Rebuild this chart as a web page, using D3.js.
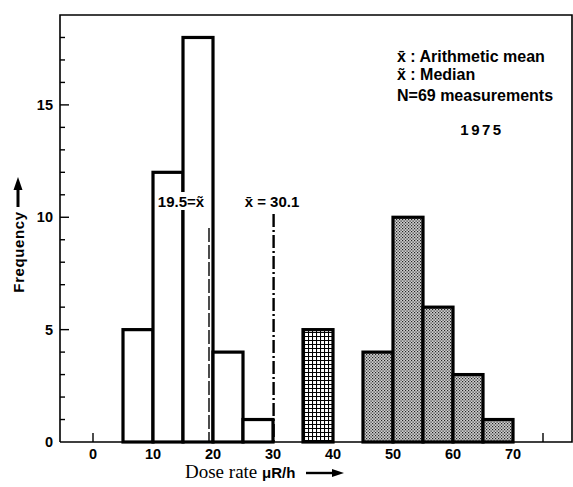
<!DOCTYPE html>
<html>
<head>
<meta charset="utf-8">
<script src="https://cdn.jsdelivr.net/npm/d3@7"></script>
<style>
  body { margin: 0; background: #fff; }
  svg { display: block; }
  .lab { font-family: "Liberation Sans", Arial, sans-serif; font-weight: bold; fill: #000; }
</style>
</head>
<body>
<div id="chart"></div>
<script>
// 1975 dose rate histogram, bins 5 uR/h wide
var binWidth = 5;
var openBins = [5, 10, 15, 20, 25];
var openCounts = [5, 12, 18, 4, 1];
var hatchBins = [35];
var hatchCounts = [5];
var dotBins = [45, 50, 55, 60, 65];
var dotCounts = [4, 10, 6, 3, 1];

var meanValue = 30.1;
var medianValue = 19.5;

var xTickLabels = [0, 10, 20, 30, 40, 50, 60, 70];
var yTickLabels = [0, 5, 10, 15];
var legendLines = ["x\u0304 : Arithmetic mean", "x\u0303 : Median", "N=69 measurements"];
var yearLabel = "1975";

var width = 573, height = 487;
var svg = d3.select("#chart").append("svg")
    .attr("width", width)
    .attr("height", height);

var x = d3.scaleLinear().domain([0, 75]).range([93, 543]);
var y = d3.scaleLinear().domain([0, 19]).range([442, 15]);

var defs = svg.append("defs");

// cross-hatch grid
var hatch = defs.append("pattern")
    .attr("id", "hatch")
    .attr("patternUnits", "userSpaceOnUse")
    .attr("width", 4).attr("height", 4);
hatch.append("rect").attr("width", 4).attr("height", 4).attr("fill", "#fff");
hatch.append("path").attr("d", "M0,0.5H4M0.5,0V4").attr("stroke", "#000").attr("stroke-width", 1.1);

// fine stipple
var dots = defs.append("pattern")
    .attr("id", "dots")
    .attr("patternUnits", "userSpaceOnUse")
    .attr("width", 3).attr("height", 3);
dots.append("rect").attr("width", 3).attr("height", 3).attr("fill", "#d0d0d0");
dots.append("rect").attr("x", 0).attr("y", 0).attr("width", 1.2).attr("height", 1.2).attr("fill", "#222");
dots.append("rect").attr("x", 1.5).attr("y", 1.5).attr("width", 1.2).attr("height", 1.2).attr("fill", "#222");

var x0 = x(-5.5), x1 = 572;

// frame
svg.append("path")
    .attr("d", "M" + x0 + "," + y(0) + "V" + y(19) + "H" + x1 + "V" + y(0) + "H" + x0)
    .attr("fill", "none")
    .attr("stroke", "#000")
    .attr("stroke-width", 1.6);

// y ticks (inward)
svg.selectAll(".ytick")
  .data(d3.range(1, 19))
  .enter().append("line")
    .attr("x1", x0).attr("x2", function(d){ return d % 5 === 0 ? x0 + 9 : x0 + 5; })
    .attr("y1", function(d){ return y(d); })
    .attr("y2", function(d){ return y(d); })
    .attr("stroke", "#000").attr("stroke-width", 1.4);

svg.selectAll(".ylab")
  .data(yTickLabels)
  .enter().append("text")
    .attr("class", "lab")
    .attr("x", x0 - 7)
    .attr("y", function(d){ return y(d) + 5; })
    .attr("text-anchor", "end")
    .attr("font-size", 14.5)
    .text(function(d){ return d; });

// x ticks (upward)
svg.selectAll(".xtick")
  .data(d3.range(0, 80, 5))
  .enter().append("line")
    .attr("x1", function(d){ return x(d); })
    .attr("x2", function(d){ return x(d); })
    .attr("y1", y(0)).attr("y2", y(0) - 9)
    .attr("stroke", "#000").attr("stroke-width", 1.4);

svg.selectAll(".xlab")
  .data(xTickLabels)
  .enter().append("text")
    .attr("class", "lab")
    .attr("x", function(d){ return x(d); })
    .attr("y", 459)
    .attr("text-anchor", "middle")
    .attr("font-size", 14.5)
    .text(function(d){ return d; });

function drawBars(bins, counts, fill) {
  svg.append("g").selectAll("rect")
    .data(bins.map(function(b, i){ return { start: b, count: counts[i] }; }))
    .enter().append("rect")
      .attr("x", function(d){ return x(d.start); })
      .attr("y", function(d){ return y(d.count); })
      .attr("width", function(d){ return x(d.start + binWidth) - x(d.start); })
      .attr("height", function(d){ return y(0) - y(d.count); })
      .attr("fill", fill)
      .attr("stroke", "#000")
      .attr("stroke-width", 3.2);
}
drawBars(openBins, openCounts, "#fff");
drawBars(hatchBins, hatchCounts, "url(#hatch)");
drawBars(dotBins, dotCounts, "url(#dots)");

// median (dashed) and mean (dash-dot)
svg.append("line")
    .attr("x1", x(medianValue) - 1).attr("x2", x(medianValue) - 1)
    .attr("y1", 228).attr("y2", y(0))
    .attr("stroke", "#000").attr("stroke-width", 1.4)
    .attr("stroke-dasharray", "14,3");
svg.append("line")
    .attr("x1", x(meanValue)).attr("x2", x(meanValue))
    .attr("y1", 214).attr("y2", y(0))
    .attr("stroke", "#000").attr("stroke-width", 2.4)
    .attr("stroke-dasharray", "13,3,2,3");

// labels over the lines
svg.append("rect")
    .attr("x", 156).attr("y", 192).attr("width", 51).attr("height", 18)
    .attr("fill", "#fff");
svg.append("text").attr("class", "lab")
    .attr("x", 181).attr("y", 207)
    .attr("text-anchor", "middle").attr("font-size", 15)
    .text(medianValue + "=x\u0303");
svg.append("text").attr("class", "lab")
    .attr("x", 272).attr("y", 207)
    .attr("text-anchor", "middle").attr("font-size", 15)
    .text("x\u0304 = " + meanValue);

// legend
svg.selectAll(".leg")
  .data(legendLines)
  .enter().append("text")
    .attr("class", "lab")
    .attr("x", 397)
    .attr("y", function(d, i){ return [62, 80, 101][i]; })
    .attr("font-size", 16)
    .text(function(d){ return d; });
svg.append("text").attr("class", "lab")
    .attr("x", 482).attr("y", 135)
    .attr("text-anchor", "middle")
    .attr("font-size", 15)
    .attr("letter-spacing", 2.5)
    .text(yearLabel);

// axis titles
svg.append("text").attr("class", "lab")
    .attr("transform", "translate(24,252) rotate(-90)")
    .attr("text-anchor", "middle")
    .attr("font-size", 15)
    .attr("letter-spacing", 0.6)
    .text("Frequency");
svg.append("path")
    .attr("d", "M18,207V188")
    .attr("stroke", "#000").attr("stroke-width", 3);
svg.append("path")
    .attr("d", "M13.5,190L18,177L22.5,190Z")
    .attr("fill", "#000");

var xtitle = svg.append("text")
    .attr("x", 185).attr("y", 478);
xtitle.append("tspan")
    .attr("font-family", "'Liberation Serif', 'Times New Roman', serif")
    .attr("font-size", 19)
    .text("Dose rate ");
xtitle.append("tspan")
    .attr("font-family", "'Liberation Sans', Arial, sans-serif")
    .attr("font-weight", "bold")
    .attr("font-size", 15)
    .text("\u03bcR/h");
svg.append("path")
    .attr("d", "M306,473H334")
    .attr("stroke", "#000").attr("stroke-width", 2.4);
svg.append("path")
    .attr("d", "M332,469L344,473L332,477Z")
    .attr("fill", "#000");
</script>
</body>
</html>
